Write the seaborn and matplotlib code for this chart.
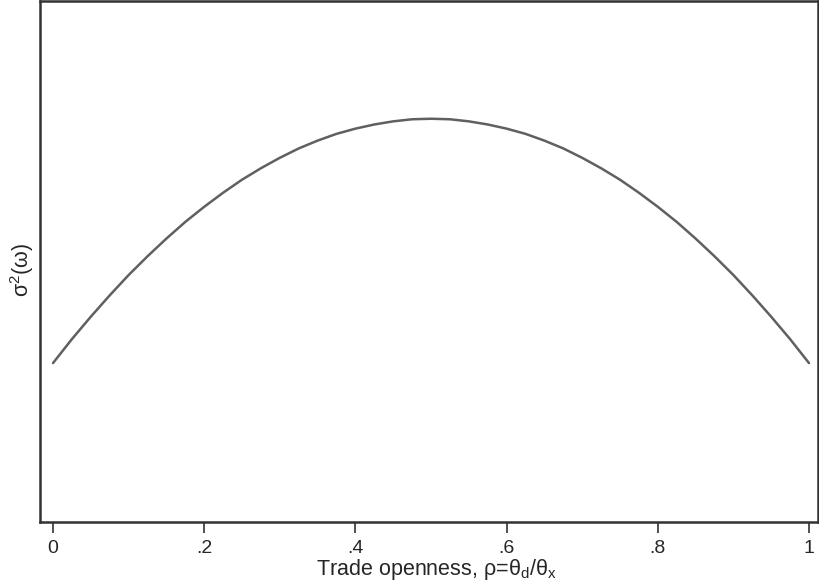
import matplotlib
matplotlib.use("Agg")
import matplotlib.pyplot as plt
import seaborn as sns
import pandas as pd

# trade openness rho and variance of omega (arbitrary units)
rho = [0.0, 0.025, 0.05, 0.075, 0.1, 0.125, 0.15, 0.175, 0.2, 0.225, 0.25,
       0.275, 0.3, 0.325, 0.35, 0.375, 0.4, 0.425, 0.45, 0.475, 0.5,
       0.525, 0.55, 0.575, 0.6, 0.625, 0.65, 0.675, 0.7, 0.725, 0.75,
       0.775, 0.8, 0.825, 0.85, 0.875, 0.9, 0.925, 0.95, 0.975, 1.0]
sigma2 = [0.305, 0.351, 0.394, 0.435, 0.474, 0.510, 0.544, 0.576, 0.605, 0.632, 0.657,
          0.679, 0.699, 0.717, 0.732, 0.745, 0.755, 0.763, 0.769, 0.773, 0.774,
          0.773, 0.769, 0.763, 0.755, 0.745, 0.732, 0.717, 0.699, 0.679, 0.657,
          0.632, 0.605, 0.576, 0.544, 0.510, 0.474, 0.435, 0.394, 0.351, 0.305]
xticks = [0, 0.2, 0.4, 0.6, 0.8, 1]
xtick_labels = ["0", ".2", ".4", ".6", ".8", "1"]

df = pd.DataFrame({"rho": rho, "sigma2": sigma2})

sns.set_style("ticks")
plt.rcParams["font.family"] = ["Liberation Sans", "DejaVu Sans"]
plt.rcParams["mathtext.default"] = "regular"

fig = plt.figure(figsize=(8.2, 5.81), dpi=100)
ax = fig.add_axes([40 / 820, 1 - 522 / 581, 778 / 820, 521 / 581])

sns.lineplot(data=df, x="rho", y="sigma2", ax=ax, color="#606060", linewidth=1.8)

ax.set_xlim(-13 / 756, 1 + 9 / 756)
ax.set_ylim(0, 1)
ax.set_xticks(xticks)
ax.set_xticklabels(xtick_labels, fontsize=14)
ax.set_yticks([])
ax.tick_params(axis="x", length=8, width=1.2, color="#333333", pad=5)
for s in ax.spines.values():
    s.set_color("#333333")
    s.set_linewidth(1.8)

ax.set_xlabel(r"Trade openness, ρ=θ$_d$/θ$_x$", fontsize=15.5, labelpad=0)
ax.set_ylabel(r"σ$^2$(ω)", fontsize=15.5, labelpad=3)
ax.xaxis.label.set_x(0.51)
ax.yaxis.label.set_y(0.483)

fig.savefig("out.png", dpi=100)
